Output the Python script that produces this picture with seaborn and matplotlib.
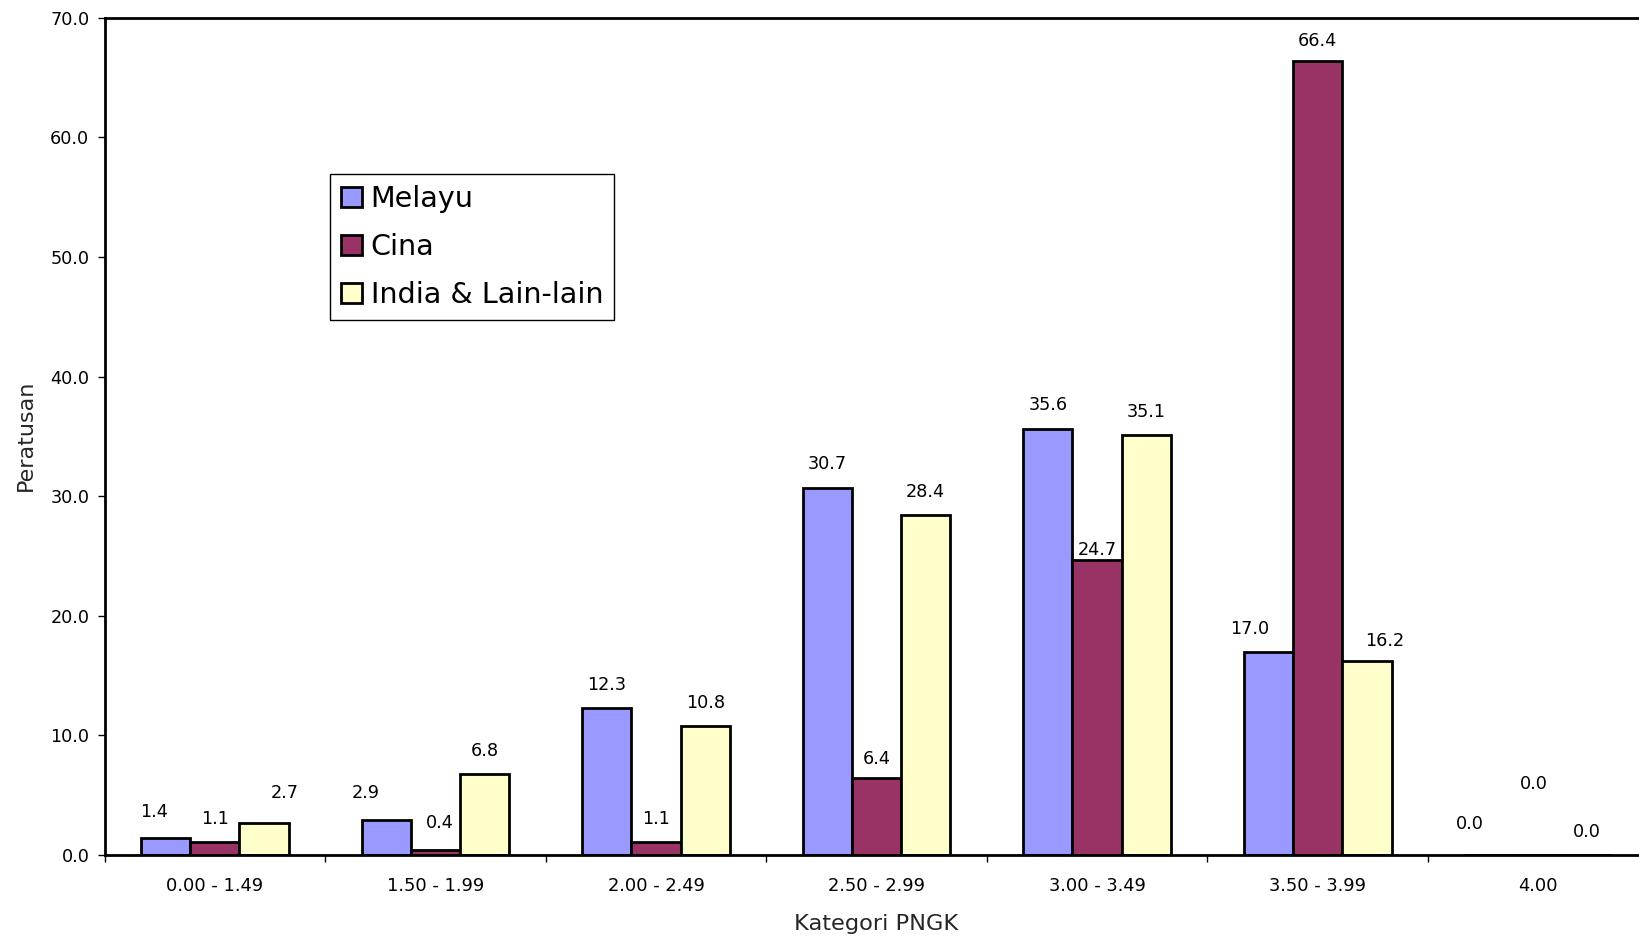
import matplotlib
matplotlib.use("Agg")
import matplotlib.pyplot as plt
import seaborn as sns
import pandas as pd
from matplotlib.ticker import FixedLocator, FormatStrFormatter

# ---- data ----
categories = ["0.00 - 1.49", "1.50 - 1.99", "2.00 - 2.49", "2.50 - 2.99",
              "3.00 - 3.49", "3.50 - 3.99", "4.00"]
series_names = ["Melayu", "Cina", "India & Lain-lain"]
melayu = [1.4, 2.9, 12.3, 30.7, 35.6, 17.0, 0.0]
cina = [1.1, 0.4, 1.1, 6.4, 24.7, 66.4, 0.0]
india = [2.7, 6.8, 10.8, 28.4, 35.1, 16.2, 0.0]
y_ticks = [0, 10, 20, 30, 40, 50, 60, 70]

# ---- style ----
colors = ["#9999FF", "#993366", "#FFFFCC"]
# label offsets (pixels) relative to bar top centre, per series
label_offsets = [
    [(-12, 26), (-20, 27), (0, 23), (0, 24), (0, 24), (-19, 23), (-19, 31)],
    [(0, 23), (4, 27), (0, 23), (0, 19), (0, 10), (0, 20), (-4, 71)],
    [(21, 30), (0, 23), (0, 23), (0, 23), (0, 23), (18, 20), (-1, 23)],
]

df = pd.DataFrame({
    "Kategori": categories * 3,
    "Kaum": [series_names[0]] * 7 + [series_names[1]] * 7 + [series_names[2]] * 7,
    "Peratusan": melayu + cina + india,
})

sns.set_style("white")
plt.rcParams["font.family"] = ["DejaVu Sans"]
plt.rcParams["text.color"] = "black"

fig = plt.figure(figsize=(16.39, 9.41), dpi=100)
ax = fig.add_axes([0.0638, 0.0914, 0.942, 0.8897])

sns.barplot(data=df, x="Kategori", y="Peratusan", hue="Kaum",
            order=categories, hue_order=series_names, palette=colors,
            width=0.67, edgecolor="black", linewidth=2, saturation=1,
            errorbar=None, ax=ax)

# value labels
for ci, cont in enumerate(ax.containers):
    for bi, bar in enumerate(cont):
        h = bar.get_height()
        xc = bar.get_x() + bar.get_width() / 2
        dx, dy = label_offsets[ci][bi]
        ax.annotate(f"{h:.1f}", (xc, h), xytext=(dx, dy),
                    textcoords="offset pixels", ha="center", va="center",
                    fontsize=12.7, color="black")

ax.set_xlim(-0.5, len(categories) - 0.5)
ax.set_ylim(0, 70)
ax.yaxis.set_major_locator(FixedLocator(y_ticks))
ax.yaxis.set_major_formatter(FormatStrFormatter("%.1f"))

ax.set_xticks(range(len(categories)))
ax.set_xticklabels(categories)
ax.set_xticks([i - 0.5 for i in range(len(categories) + 1)], minor=True)
ax.tick_params(axis="x", which="major", length=0, pad=16, labelsize=12.9, colors="black")
ax.tick_params(axis="x", which="minor", length=5, width=1, direction="out", bottom=True, color="black")
ax.tick_params(axis="y", which="major", length=5, width=1, direction="out", left=True,
               pad=6, labelsize=12.7, colors="black")

for side in ["left", "top", "bottom", "right"]:
    ax.spines[side].set_visible(True)
    ax.spines[side].set_color("black")
    ax.spines[side].set_linewidth(2)

ax.set_xlabel("Kategori PNGK", fontsize=16.2)
ax.set_ylabel("Peratusan", fontsize=16)
ax.xaxis.set_label_coords(0.5, -0.0824)
ax.xaxis.label.set_va("center")
ax.yaxis.set_label_coords((26 - 104.5) / (0.942 * 1639), (855 - 435) / (0.8897 * 941))
ax.yaxis.label.set_va("center")

handles, labels = ax.get_legend_handles_labels()
leg = ax.legend(handles=handles, labels=labels, loc="upper left",
                bbox_to_anchor=(330 / 1639, 1 - 174 / 941),
                bbox_transform=fig.transFigure, borderaxespad=0,
                fontsize=20.6, handlelength=0.74, handleheight=0.74,
                handletextpad=0.3, labelspacing=0.7, borderpad=0.38,
                fancybox=False, shadow=False, framealpha=1,
                edgecolor="black", title=None)
leg.get_frame().set_linewidth(1)

fig.savefig("out.png", dpi=100, facecolor="white")
